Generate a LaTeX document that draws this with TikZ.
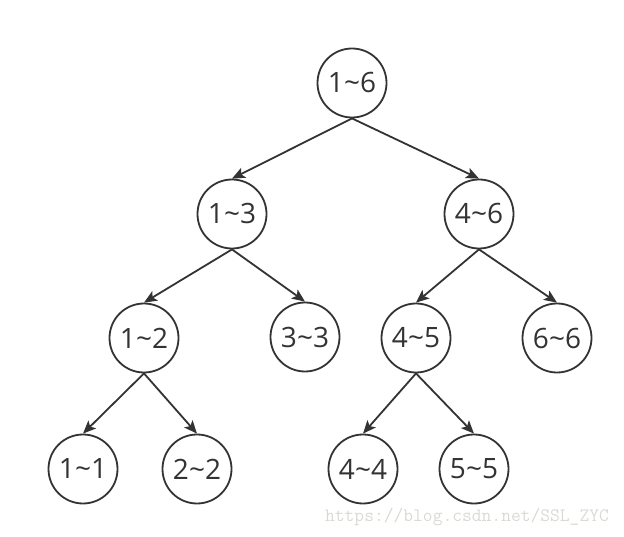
\documentclass[tikz,border=0pt]{standalone}
\usepackage{fontspec}
\setmainfont{Open Sans}
\usetikzlibrary{arrows.meta}
\definecolor{ink}{RGB}{51,51,51}
\definecolor{wm}{RGB}{218,218,212}
\tikzset{
  seg/.style={circle,draw=ink,line width=1.8pt,minimum size=69pt,inner sep=0pt,
    text=ink,font=\fontsize{28}{32}\selectfont},
  link/.style={draw=ink,line width=1.8pt,-{Stealth[length=13pt,width=11pt,inset=3pt]}}
}
\begin{document}
\begin{tikzpicture}[x=1pt,y=-1pt]
\useasboundingbox (0,0) rectangle (624,537);
\node[seg] (n16) at (352,83) {1\char`\~6};
\node[seg] (n13) at (232,214) {1\char`\~3};
\node[seg] (n46) at (479,214) {4\char`\~6};
\node[seg] (n12) at (144,338) {1\char`\~2};
\node[seg] (n33) at (305,337) {3\char`\~3};
\node[seg] (n45) at (416,338) {4\char`\~5};
\node[seg] (n66) at (557,338) {6\char`\~6};
\node[seg] (n11) at (83,469) {1\char`\~1};
\node[seg] (n22) at (197,469) {2\char`\~2};
\node[seg] (n44) at (363,469) {4\char`\~4};
\node[seg] (n55) at (474,469) {5\char`\~5};
\draw[link] (n16.south) -- (n13.north);
\draw[link] (n16.south) -- (n46.north);
\draw[link] (n13.south) -- (n12.north);
\draw[link] (n13.south) -- (n33.north);
\draw[link] (n46.south) -- (n45.north);
\draw[link] (n46.south) -- (n66.north);
\draw[link] (n12.south) -- (n11.north);
\draw[link] (n12.south) -- (n22.north);
\draw[link] (n45.south) -- (n44.north);
\draw[link] (n45.south) -- (n55.north);
\node[text=wm,font=\ttfamily\fontsize{19}{21}\selectfont,anchor=center] (wmk) at (467,517) {https://blog.csdn.net/SSL\_ZYC};
\end{tikzpicture}
\end{document}
